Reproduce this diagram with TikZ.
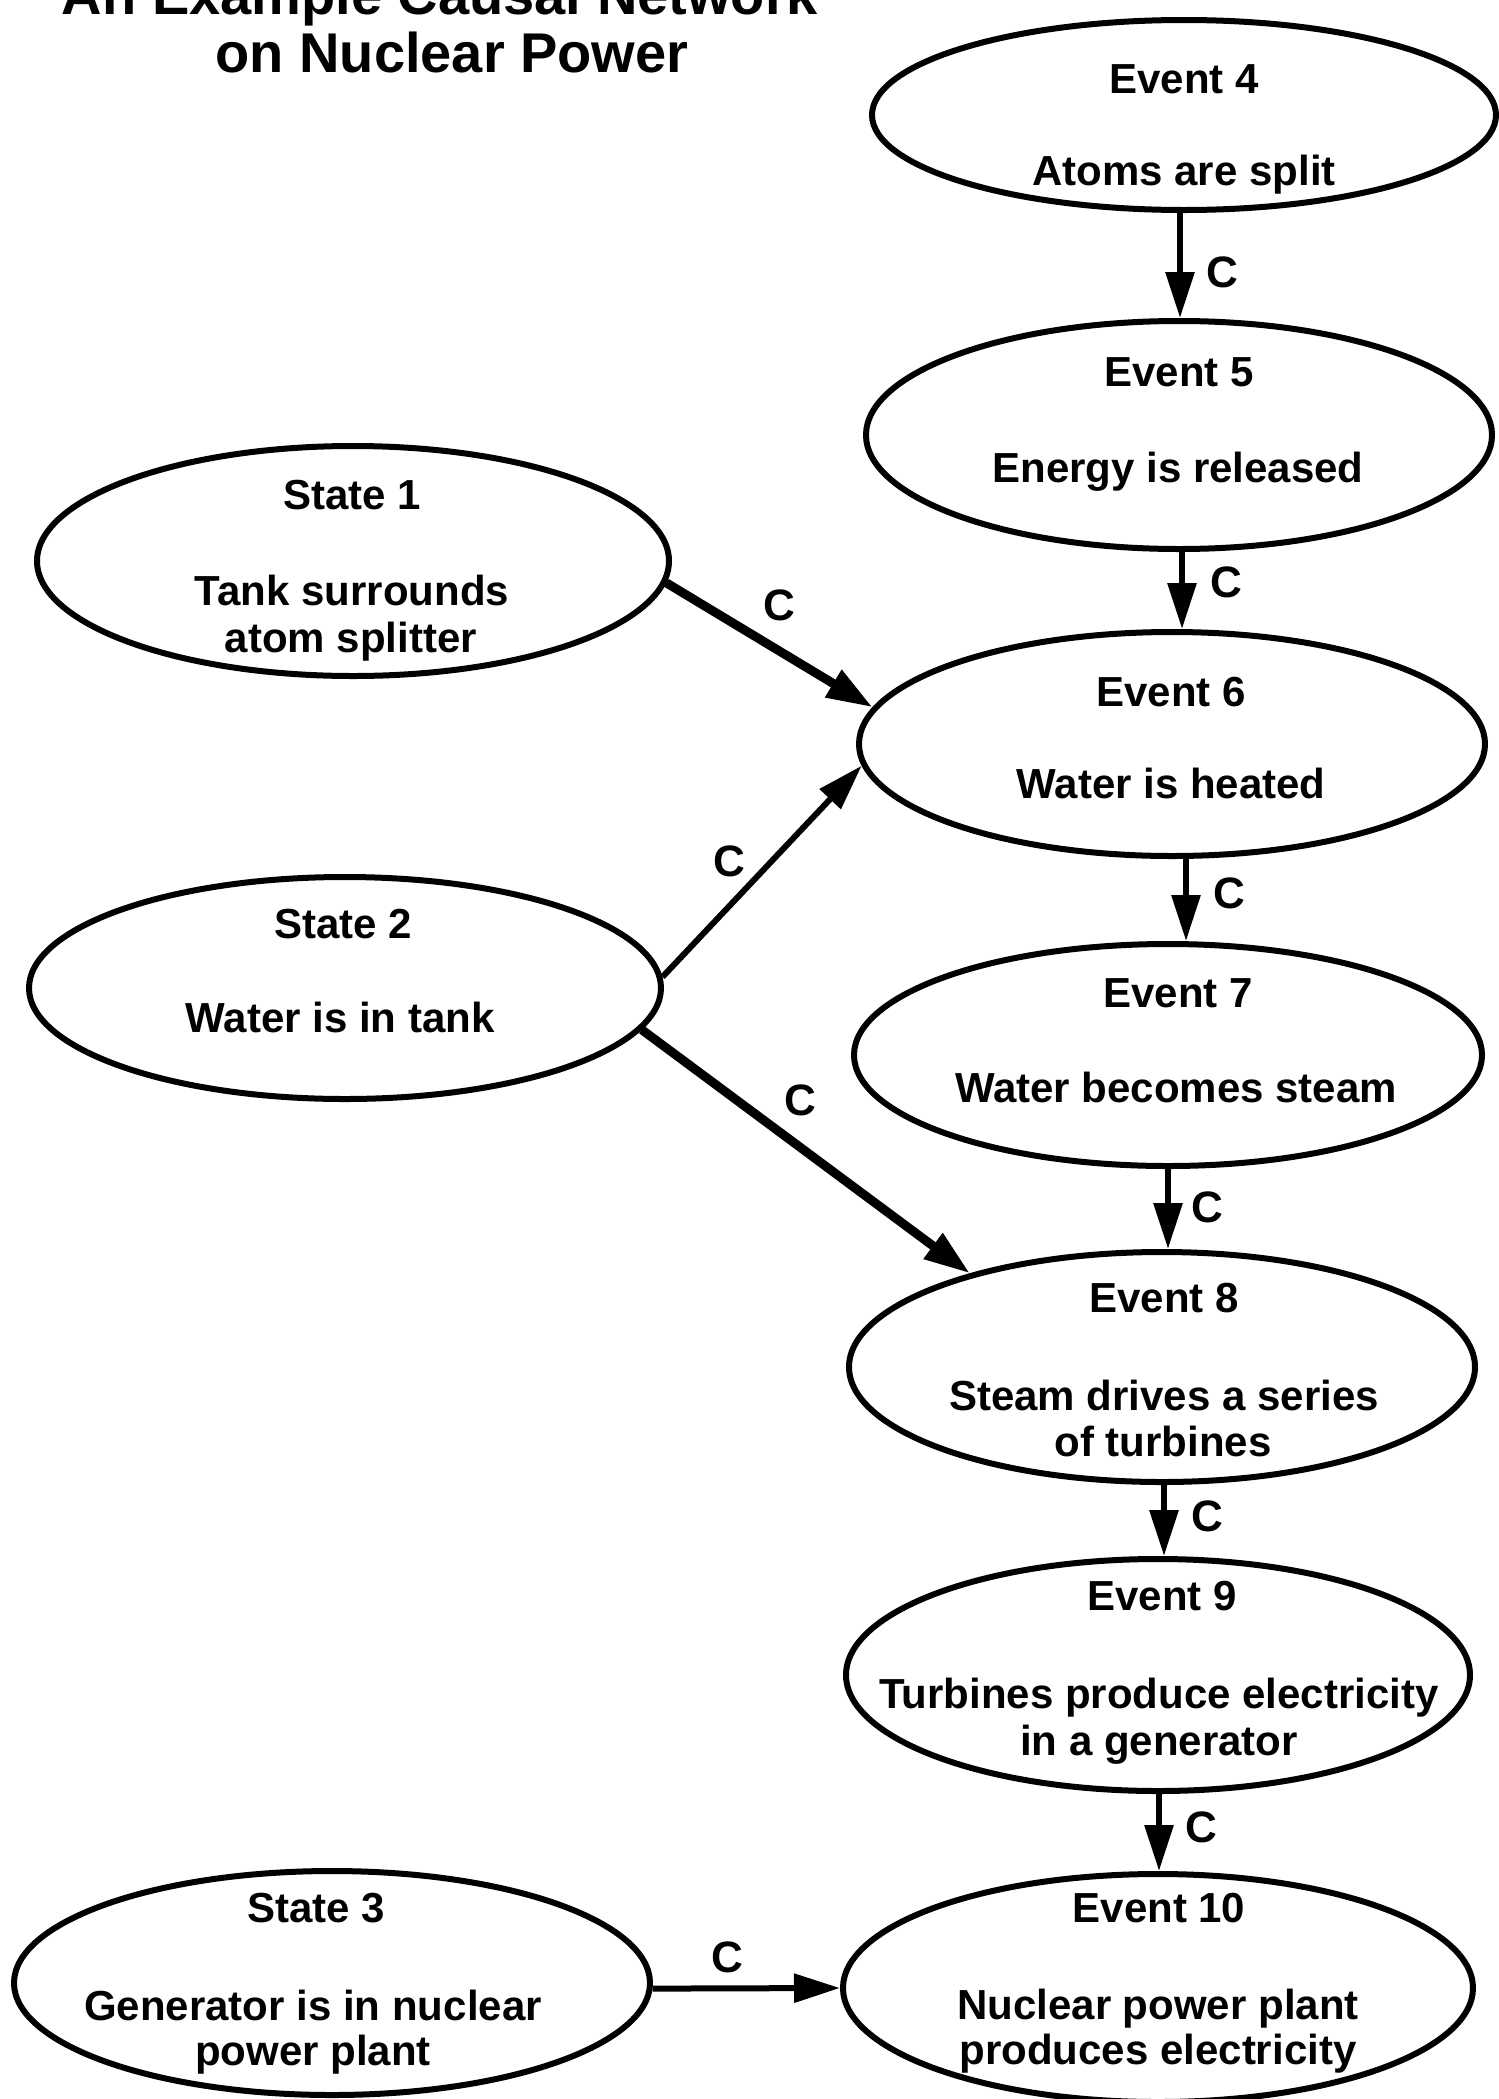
\documentclass[tikz,border=0pt]{standalone}
\usepackage{fontspec}
\setmainfont{Liberation Sans}
\usetikzlibrary{arrows.meta,shapes.geometric}
\begin{document}
\begin{tikzpicture}[x=1pt,y=-1pt,
  ell/.style={draw,ellipse,line width=6pt,inner sep=0pt},
  tx/.style={font=\bfseries\fontsize{42}{48}\selectfont,anchor=base,inner sep=0pt},
  ttl/.style={font=\bfseries\fontsize{56}{64}\selectfont,anchor=base,inner sep=0pt},
  lab/.style={font=\bfseries\fontsize{44}{50}\selectfont,inner sep=0pt},
  arr/.style={line width=6pt,-{Triangle[length=46pt,width=28pt]}},
  thickarr/.style={line width=9pt,-{Triangle[length=46pt,width=30pt]}}]
\clip (0,0) rectangle (1499,2099);
\fill[white] (0,0) rectangle (1499,2099);
% title
\node[ttl] (t1) at (440,14) {An Example Causal Network};
\node[ttl] (t2) at (452,72) {on Nuclear Power};
% ellipses
\node[ell,minimum width=624pt,minimum height=190pt] (e4) at (1184,115) {};
\node[ell,minimum width=626pt,minimum height=228pt] (e5) at (1179,435) {};
\node[ell,minimum width=632pt,minimum height=230pt] (s1) at (353,561) {};
\node[ell,minimum width=626pt,minimum height=224pt] (e6) at (1172,744) {};
\node[ell,minimum width=632pt,minimum height=222pt] (s2) at (345,988) {};
\node[ell,minimum width=628pt,minimum height=222pt] (e7) at (1168,1055) {};
\node[ell,minimum width=626pt,minimum height=230pt] (e8) at (1162,1367) {};
\node[ell,minimum width=624pt,minimum height=232pt] (e9) at (1158,1675) {};
\node[ell,minimum width=630pt,minimum height=228pt] (e10) at (1158,1988) {};
\node[ell,minimum width=636pt,minimum height=224pt] (s3) at (332,1983) {};
% texts
\node[tx] (e4a) at (1184,93) {Event 4};
\node[tx] (e4b) at (1184,185) {Atoms are split};
\node[tx] (e5a) at (1179,386) {Event 5};
\node[tx] (e5b) at (1178,482) {Energy is released};
\node[tx] (s1a) at (352,509) {State 1};
\node[tx] (s1b) at (352,605) {Tank surrounds};
\node[tx] (s1c) at (351,652) {atom splitter};
\node[tx] (e6a) at (1171,706) {Event 6};
\node[tx] (e6b) at (1171,798) {Water is heated};
\node[tx] (s2a) at (343,938) {State 2};
\node[tx] (s2b) at (340,1032) {Water is in tank};
\node[tx] (e7a) at (1178,1007) {Event 7};
\node[tx] (e7b) at (1176,1102) {Water becomes steam};
\node[tx] (e8a) at (1164,1312) {Event 8};
\node[tx] (e8b) at (1164,1410) {Steam drives a series};
\node[tx] (e8c) at (1163,1456) {of turbines};
\node[tx] (e9a) at (1162,1610) {Event 9};
\node[tx] (e9b) at (1159,1708) {Turbines produce electricity};
\node[tx] (e9c) at (1159,1755) {in a generator};
\node[tx] (e10a) at (1159,1922) {Event 10};
\node[tx] (e10b) at (1158,2019) {Nuclear power plant};
\node[tx] (e10c) at (1158,2064) {produces electricity};
\node[tx] (s3a) at (316,1922) {State 3};
\node[tx] (s3b) at (313,2020) {Generator is in nuclear};
\node[tx] (s3c) at (313,2065) {power plant};
% connectors
\draw[arr] ([xshift=-4pt]e4.south) -- ([xshift=-4pt]e4.south |- e5.north);
\draw[arr] ([xshift=3pt]e5.south) -- ([xshift=3pt]e5.south |- e6.north);
\draw[arr] ([xshift=14pt]e6.south) -- ([xshift=14pt]e6.south |- e7.north);
\draw[arr] (e7.south) -- (e7.south |- e8.north);
\draw[arr] ([xshift=2pt]e8.south) -- ([xshift=2pt]e8.south |- e9.north);
\draw[arr] ([xshift=1pt]e9.south) -- ([xshift=1pt]e9.south |- e10.north);
\draw[thickarr] (s1.-4) -- (e6.173);
\draw[arr] (s2.2) -- (e6.184);
\draw[thickarr] (s2.-8) -- (e8.154);
\draw[arr] (s3.-1) -- (e10.west);
% labels
\node[lab] (c1) at (1222,272) {C};
\node[lab] (c2) at (1226,582) {C};
\node[lab] (c3) at (1229,893) {C};
\node[lab] (c4) at (1207,1207) {C};
\node[lab] (c5) at (1207,1516) {C};
\node[lab] (c6) at (1201,1827) {C};
\node[lab] (c7) at (779,605) {C};
\node[lab] (c8) at (729,861) {C};
\node[lab] (c9) at (800,1100) {C};
\node[lab] (c10) at (727,1957) {C};
\end{tikzpicture}
\end{document}
